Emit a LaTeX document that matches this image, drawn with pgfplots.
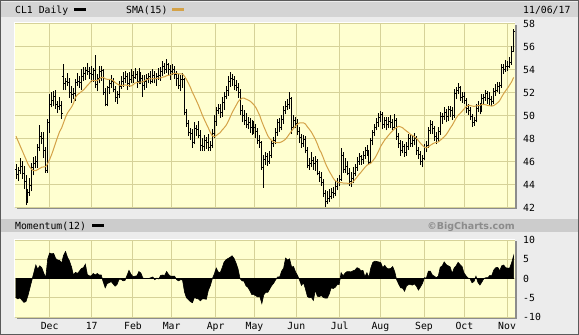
\documentclass[border=0pt]{standalone}
\usepackage{fontspec}
\setmainfont{DejaVu Sans Mono}
\newfontfamily\bcfont{DejaVu Sans}
\usepackage{pgfplots}
\usepackage{pgfplotstable}
\pgfplotsset{compat=1.18}
\definecolor{bgc}{RGB}{236,236,236}
\definecolor{bandc}{RGB}{212,212,212}
\definecolor{bandtwo}{RGB}{204,204,204}
\definecolor{borderc}{RGB}{90,90,90}
\definecolor{plotc}{RGB}{255,255,208}
\definecolor{gridc}{RGB}{214,210,152}
\definecolor{smac}{RGB}{212,162,72}
\definecolor{shadowc}{RGB}{140,140,140}
\definecolor{bcgray}{RGB}{140,140,140}
\pgfplotstableread{
i o h l c s m
0 45.3 45.8 44.5 44.9 48.2 -5.0
1 44.9 45.5 44.3 45.2 47.8 -5.3
2 45.2 46.3 44.9 45.6 47.4 -5.0
3 45.6 46.0 44.5 45.0 47.0 -5.6
4 45.0 45.6 43.6 44.3 46.6 -6.2
5 44.3 44.8 42.2 43.0 46.2 -6.0
6 43.0 43.6 42.4 43.3 45.8 -4.5
7 43.3 44.6 43.0 43.9 45.5 -2.5
8 43.9 45.9 43.4 45.5 45.3 -0.5
9 45.5 46.4 44.8 45.8 45.2 1.5
10 45.8 46.5 45.4 46.0 45.2 3.5
11 46.0 47.5 45.4 47.2 45.3 2.4
12 47.2 49.2 46.9 48.2 45.4 3.3
13 48.2 48.6 47.5 48.0 45.5 2.8
14 48.0 48.6 46.3 47.0 45.53 1.4
15 47.0 47.3 45.0 45.2 45.55 0.2
16 45.2 49.7 45.0 49.4 45.83 5.1
17 49.4 51.9 48.5 51.0 46.19 6.6
18 51.0 52.0 50.7 51.3 46.61 6.4
19 51.3 52.1 50.8 51.7 47.10 6.5
20 51.7 52.2 50.6 51.0 47.63 5.2
21 51.0 51.3 50.2 50.8 48.13 4.8
22 50.8 51.6 50.5 50.9 48.60 4.7
23 50.9 51.3 49.7 50.2 48.91 4.0
24 53.4 54.5 52.2 52.8 49.38 6.0
25 52.8 53.3 52.2 53.0 49.85 7.0
26 53.0 53.7 52.6 52.9 50.23 5.5
27 52.9 53.3 51.5 52.0 50.48 4.5
28 52.0 52.6 51.1 51.8 50.73 3.0
29 51.8 52.4 51.4 51.9 51.06 0.9
30 51.9 53.2 51.3 52.9 51.57 1.6
31 52.9 53.7 52.6 53.0 51.81 1.3
32 53.0 53.4 52.4 52.9 51.94 1.9
33 52.9 54.0 52.2 53.4 52.08 2.6
34 53.4 54.2 53.0 53.7 52.21 2.8
35 53.7 54.2 53.1 53.9 52.41 3.7
36 53.9 54.6 53.5 53.8 52.61 1.0
37 53.8 54.2 53.2 53.7 52.79 0.7
38 53.7 54.3 52.9 53.6 53.02 0.7
39 53.6 54.1 52.9 53.3 53.05 1.3
40 53.9 55.3 52.4 52.7 53.03 0.9
41 52.7 53.6 52.1 53.2 53.05 1.3
42 53.2 54.3 52.8 53.8 53.17 0.9
43 53.8 54.3 53.0 53.9 53.31 0.9
44 53.9 54.0 51.8 52.0 53.32 -0.9
45 52.0 52.4 50.8 51.0 53.19 -2.4
46 51.0 52.6 50.8 52.4 53.15 -1.3
47 52.4 53.2 51.9 52.8 53.15 -1.1
48 52.8 53.5 52.4 53.0 53.12 -0.8
49 53.0 53.3 52.0 52.3 53.03 -1.4
50 52.3 52.6 51.2 51.6 52.87 -2.0
51 51.6 52.1 51.0 51.8 52.74 -1.5
52 51.8 53.0 51.5 52.5 52.66 -0.2
53 52.5 53.4 52.3 53.0 52.62 -0.2
54 53.0 53.8 52.5 53.2 52.61 -0.6
55 53.2 53.9 52.8 53.4 52.66 -0.5
56 53.4 53.7 52.2 52.8 52.63 0.8
57 52.8 53.8 52.5 53.1 52.59 2.1
58 53.1 54.0 52.8 53.5 52.56 1.1
59 53.5 53.9 52.8 53.3 52.65 0.5
60 53.3 54.1 53.2 53.6 52.82 0.6
61 53.6 53.9 52.4 53.0 52.86 0.7
62 53.0 54.1 52.7 53.4 52.90 1.8
63 53.4 53.8 52.7 53.2 52.91 1.4
64 53.2 53.5 51.6 52.6 52.93 0.1
65 52.6 53.5 52.2 53.0 53.03 0.0
66 53.0 53.6 52.4 53.2 53.12 0.0
67 53.2 53.7 52.8 53.4 53.18 0.0
68 53.4 53.9 52.7 53.0 53.18 0.2
69 53.0 54.0 52.8 53.5 53.20 0.4
70 53.5 53.9 52.8 53.2 53.19 -0.3
71 53.2 53.7 52.6 53.4 53.23 0.1
72 53.4 54.1 53.1 53.5 53.25 -0.1
73 53.5 54.2 53.0 53.8 53.27 0.8
74 53.8 54.7 53.4 54.3 53.34 0.9
75 54.3 54.6 53.6 54.0 53.37 0.8
76 54.0 54.9 53.7 54.4 53.46 1.8
77 54.4 54.6 53.5 54.0 53.50 1.0
78 54.0 54.4 53.1 53.8 53.54 0.6
79 53.8 54.5 53.5 54.0 53.63 0.6
80 54.0 54.3 53.2 53.6 53.67 0.6
81 53.6 53.9 52.6 53.2 53.67 -0.3
82 53.2 53.6 52.3 52.6 53.62 -0.6
83 52.6 53.5 52.1 53.1 53.63 -0.3
84 53.1 53.7 52.4 53.1 53.60 -0.4
85 53.1 53.3 50.0 50.3 53.41 -3.5
86 50.3 50.6 49.0 49.3 53.13 -5.0
87 49.3 49.6 48.2 48.5 52.80 -5.5
88 48.5 48.9 47.9 48.4 52.44 -6.0
89 48.4 48.8 47.2 47.7 52.00 -6.3
90 47.7 49.4 47.5 48.9 51.66 -4.9
91 48.9 49.2 48.2 48.8 51.29 -5.2
92 48.8 49.5 48.0 48.3 50.91 -5.3
93 48.3 48.7 46.9 47.4 50.48 -5.8
94 47.4 48.0 46.9 47.3 50.03 -5.3
95 47.3 48.3 46.9 47.8 49.65 -5.3
96 47.8 48.1 47.1 47.7 49.28 -5.4
97 47.7 48.4 46.9 47.2 48.92 -3.1
98 47.2 47.8 46.9 47.4 48.54 -1.9
99 47.4 48.8 47.2 48.4 48.23 -0.1
100 48.4 50.0 48.0 49.5 48.17 1.1
101 49.5 50.7 49.1 50.4 48.25 2.7
102 50.4 51.0 50.1 50.6 48.39 1.7
103 50.6 51.0 49.8 50.3 48.51 1.5
104 50.3 51.6 49.9 51.1 48.74 2.8
105 51.1 52.0 50.5 51.7 48.93 4.3
106 51.7 52.6 51.4 52.2 49.15 4.9
107 52.2 53.4 51.7 53.0 49.47 5.2
108 53.0 53.8 52.5 53.2 49.85 5.5
109 53.2 53.6 52.6 53.1 50.24 5.9
110 53.1 53.4 52.2 52.6 50.56 5.2
111 52.6 53.1 52.1 52.4 50.87 4.0
112 52.4 52.8 51.5 52.0 51.19 2.5
113 52.0 52.3 50.0 50.4 51.39 0.0
114 50.4 50.9 49.4 50.0 51.50 -0.6
115 50.0 50.5 49.2 49.6 51.51 -0.7
116 49.6 50.2 48.9 49.2 51.43 -1.9
117 49.2 49.9 48.8 49.4 51.35 -2.3
118 49.4 49.8 48.5 49.0 51.26 -3.2
119 49.0 49.6 48.3 48.8 51.11 -4.2
120 48.8 49.5 48.4 49.0 50.93 -4.2
121 49.0 49.3 48.0 48.6 50.69 -4.5
122 48.6 48.9 47.5 47.8 50.34 -4.8
123 47.8 48.3 47.2 47.7 49.97 -4.7
124 47.7 47.8 45.3 45.5 49.47 -6.5
125 45.5 46.6 43.7 46.2 49.04 -4.2
126 46.2 46.8 45.7 46.4 48.64 -3.6
127 46.4 46.7 45.6 46.0 48.24 -3.6
128 46.0 46.9 45.8 46.5 47.98 -2.7
129 46.5 47.9 46.3 47.6 47.82 -1.8
130 47.6 48.1 47.3 47.8 47.70 -1.2
131 47.8 48.9 47.5 48.5 47.65 -0.3
132 48.5 49.7 48.2 49.4 47.65 0.4
133 49.4 49.8 48.6 49.0 47.65 0.4
134 49.0 50.0 48.7 49.7 47.71 1.9
135 49.7 50.8 49.3 50.4 47.81 2.7
136 50.4 51.3 50.1 50.8 47.95 5.3
137 50.8 51.4 50.5 51.0 48.17 4.8
138 51.0 52.0 50.6 51.5 48.42 5.1
139 51.5 51.6 48.4 49.0 48.65 3.0
140 49.0 50.0 48.8 49.6 48.88 3.1
141 49.6 49.9 48.9 49.3 49.07 1.7
142 49.3 49.7 48.3 48.6 49.25 0.8
143 48.6 49.0 47.6 48.1 49.35 -0.4
144 48.1 48.4 47.2 47.6 49.35 -1.8
145 47.6 48.3 47.3 47.9 49.36 -1.1
146 47.9 48.2 46.7 47.0 49.26 -2.7
147 47.0 47.3 45.4 45.7 49.01 -4.7
148 45.7 46.3 45.3 45.8 48.80 -5.0
149 45.8 46.8 45.5 46.1 48.56 -4.9
150 46.1 46.4 45.3 45.8 48.25 -5.7
151 45.8 46.5 45.2 46.0 47.93 -3.0
152 46.0 46.2 44.8 45.0 47.53 -4.6
153 45.0 45.2 44.2 44.6 47.07 -4.7
154 44.6 45.1 43.9 44.2 46.75 -4.4
155 44.2 44.5 42.9 43.2 46.33 -4.9
156 43.2 43.5 42.0 42.5 45.87 -5.1
157 42.5 43.4 42.3 42.8 45.49 -5.1
158 42.8 43.6 42.5 43.0 45.15 -4.0
159 43.0 43.7 42.7 43.3 44.86 -2.4
160 43.3 43.8 42.8 43.2 44.55 -2.6
161 43.2 44.3 43.0 43.8 44.33 -2.3
162 43.8 44.6 43.5 44.2 44.23 -1.6
163 44.2 44.8 43.9 44.4 44.14 -1.6
164 44.4 47.2 44.3 46.5 44.17 1.5
165 46.5 46.8 45.0 45.3 44.13 0.7
166 45.3 46.3 45.0 45.6 44.11 1.4
167 45.6 46.0 44.8 45.0 44.11 1.8
168 45.0 45.4 43.9 44.3 44.09 1.8
169 44.3 45.1 43.8 44.5 44.11 1.7
170 44.5 45.5 44.1 45.0 44.23 2.0
171 45.0 45.8 44.7 45.5 44.43 2.2
172 45.5 46.4 45.2 46.0 44.64 2.8
173 46.0 46.7 45.7 46.4 44.87 2.6
174 46.4 46.6 45.7 46.2 45.06 2.0
175 46.2 46.9 45.8 46.5 45.28 2.1
176 46.5 47.3 46.2 47.0 45.49 0.5
177 47.0 47.4 46.5 46.8 45.67 1.5
178 46.8 47.0 45.7 45.9 45.77 0.3
179 45.9 48.0 45.8 47.8 45.85 2.8
180 47.8 48.7 47.4 48.5 46.07 4.2
181 48.5 49.3 48.2 49.0 46.29 4.5
182 49.0 49.8 48.7 49.4 46.59 4.4
183 49.4 50.2 49.0 49.8 46.95 4.3
184 49.8 50.4 49.4 50.1 47.33 4.1
185 50.1 50.3 48.8 49.2 47.61 2.8
186 49.2 49.9 48.9 49.6 47.88 3.4
187 49.6 49.9 48.7 49.2 48.09 2.7
188 49.2 49.9 48.9 49.5 48.30 2.5
189 49.5 50.0 48.9 49.4 48.51 2.6
190 49.4 49.7 48.7 49.0 48.68 3.1
191 49.0 50.1 48.8 49.6 48.85 1.8
192 49.6 49.8 47.9 48.2 48.95 -0.3
193 48.2 48.5 47.2 47.6 49.06 -1.4
194 47.6 47.9 46.5 47.0 49.01 -2.4
195 47.0 47.8 46.7 47.3 48.93 -2.5
196 47.3 47.5 46.4 46.8 48.78 -3.3
197 46.8 47.7 46.5 47.3 48.64 -1.9
198 47.3 48.4 47.0 48.0 48.52 -1.6
199 48.0 48.3 47.3 47.6 48.35 -1.6
200 47.6 48.3 47.3 47.8 48.26 -1.7
201 47.8 48.5 47.4 48.0 48.15 -1.4
202 48.0 48.2 46.6 47.0 48.01 -2.0
203 47.0 47.3 46.2 46.6 47.81 -3.0
204 46.6 46.9 45.7 46.0 47.59 -2.2
205 46.0 46.6 45.5 46.3 47.41 -1.3
206 46.3 47.5 46.1 47.2 47.25 0.2
207 47.2 47.8 46.8 47.4 47.19 0.1
208 47.4 49.0 47.2 48.7 47.27 1.9
209 48.7 49.6 48.4 49.2 47.41 1.9
210 49.2 49.5 48.4 48.9 47.52 0.9
211 48.9 49.1 47.8 48.2 47.61 0.6
212 48.2 48.6 47.5 48.0 47.66 0.2
213 48.0 49.0 47.7 48.6 47.70 0.6
214 48.6 50.3 48.3 49.9 47.85 2.9
215 49.9 50.2 49.3 49.9 47.99 3.3
216 49.9 50.7 49.6 50.3 48.15 4.3
217 50.3 50.6 49.4 49.9 48.34 3.6
218 49.9 50.8 49.5 50.5 48.60 3.3
219 50.5 50.8 49.9 50.4 48.89 3.0
220 50.4 50.7 49.6 50.0 49.14 1.3
221 50.0 52.3 49.8 51.9 49.45 2.7
222 51.9 52.5 51.4 52.2 49.77 3.3
223 52.2 52.8 51.9 52.4 50.02 4.2
224 52.4 52.6 51.3 51.6 50.18 3.6
225 51.6 52.0 51.1 51.7 50.37 3.1
226 51.7 52.0 51.0 51.3 50.57 1.4
227 51.3 51.5 50.2 50.6 50.75 0.7
228 50.6 51.0 50.0 50.4 50.87 0.1
229 50.4 50.7 49.6 49.9 50.87 0.0
230 49.9 50.1 49.0 49.4 50.83 -1.1
231 49.4 49.9 49.1 49.6 50.79 -0.8
232 49.6 51.0 49.4 50.6 50.83 0.6
233 50.6 51.3 50.3 50.9 50.86 -1.0
234 50.9 51.1 50.1 50.5 50.87 -1.7
235 50.5 51.9 50.3 51.5 50.97 -0.9
236 51.5 51.9 51.0 51.6 50.95 0.0
237 51.6 52.2 51.3 51.9 50.93 0.2
238 51.9 52.1 51.0 51.5 50.87 0.2
239 51.5 52.0 50.9 51.4 50.85 0.8
240 51.4 51.7 50.8 51.2 50.82 0.8
241 51.2 52.4 51.0 52.1 50.87 2.2
242 52.1 52.7 51.7 52.2 50.98 2.8
243 52.2 52.9 52.0 52.5 51.12 2.9
244 52.5 52.9 51.9 52.6 51.30 2.0
245 52.6 54.5 52.4 54.2 51.62 3.3
246 54.2 54.5 53.6 54.0 51.91 3.5
247 54.0 54.8 53.8 54.3 52.16 2.8
248 54.3 54.7 53.9 54.3 52.39 2.7
249 54.3 55.1 54.1 54.6 52.66 2.7
250 54.6 56.0 54.4 55.6 52.93 4.1
251 55.6 57.5 55.5 57.3 53.31 5.9
}\pricedata
\pgfplotsset{
  bcaxis/.style={
    scale only axis, width=500pt,
    xmin=-0.5, xmax=251.7,
    axis line style={draw=none},
    tick style={draw=none},
    axis background/.style={fill=plotc},
    grid=major,
    major grid style={draw=gridc, line width=1pt},
    xtick={17.0,38.2,59.0,78.5,100.7,120.3,141.4,163.3,183.8,205.8,226.2,247.7},
    yticklabel pos=right,
    yticklabel style={anchor=west, inner sep=0pt, xshift=8pt},
    tick label style={font=\fontsize{9.8}{11}\selectfont},
  },
  ohlc/.style={draw=none, mark=none, forget plot,
    error bars/error mark=none,
    error bars/error bar style={draw=black, line width=0.8pt}},
}
\begin{document}
\fontsize{9.8}{11}\selectfont
\begin{tikzpicture}
\useasboundingbox (0pt,0pt) rectangle (579pt,335pt);
\fill[bgc] (0pt,0pt) rectangle (579pt,335pt);
\fill[bandc] (1pt,318.3pt) rectangle (578pt,333pt);
\fill[bandtwo] (1pt,103.3pt) rectangle (578pt,115.7pt);
% plot shadows and light edges
\fill[shadowc] (515pt,125.5pt) rectangle (517pt,310pt);
\fill[shadowc] (17pt,125.5pt) rectangle (517pt,127.5pt);
\fill[shadowc] (515pt,16pt) rectangle (517pt,94pt);
\fill[shadowc] (17pt,16pt) rectangle (517pt,18pt);
\fill[white] (14pt,127.5pt) rectangle (515pt,312.5pt);
\fill[white] (14pt,18pt) rectangle (515pt,96pt);

\begin{axis}[bcaxis, at={(15pt,127.5pt)}, anchor=south west, height=184pt,
  ymin=42, ymax=58, ytick={42,44,...,58},
  yticklabels={42,44,46,48,50,52,54,56,58},
  xticklabels={}]
  % high-low bars
  \addplot[ohlc, error bars/y dir=plus, error bars/y explicit]
    table[x=i, y=l, y error expr=\thisrow{h}-\thisrow{l}] {\pricedata};
  % open ticks
  \addplot[ohlc, error bars/x dir=minus, error bars/x fixed=0.55]
    table[x=i, y=o] {\pricedata};
  % close ticks
  \addplot[ohlc, error bars/x dir=plus, error bars/x fixed=0.55]
    table[x=i, y=c] {\pricedata};
  % SMA 15
  \addplot[smac, line width=1pt, mark=none] table[x=i, y=s] {\pricedata};
\end{axis}

\begin{axis}[bcaxis, at={(15pt,18pt)}, anchor=south west, height=77pt,
  ymin=-10, ymax=10, ytick={-10,-5,0,5,10},
  yticklabels={-10,-5,0,5,10},
  xticklabels={Dec,17,Feb,Mar,Apr,May,Jun,Jul,Aug,Sep,Oct,Nov},
  xticklabel style={anchor=base, inner sep=0pt, yshift=-12pt}]
  \addplot[fill=black, draw=black, line width=0.6pt, mark=none]
    table[x=i, y=m] {\pricedata} \closedcycle;
\end{axis}

% header texts
\node[anchor=base west, inner sep=0pt] at (15pt,321.7pt) {CL1 Daily};
\fill[black] (74pt,324pt) rectangle (86pt,327pt);
\node[anchor=base west, inner sep=0pt] at (126pt,321.7pt) {SMA(15)};
\fill[smac] (172pt,324pt) rectangle (184pt,327pt);
\node[anchor=base west, inner sep=0pt] at (523pt,321.7pt) {11/06/17};
\node[anchor=base west, inner sep=0pt] at (15pt,105.7pt) {Momentum(12)};
\fill[black] (92pt,108.3pt) rectangle (104pt,111pt);
\node[anchor=base east, inner sep=0pt, text=bcgray,
  font=\bcfont\bfseries\fontsize{9.5}{11}\selectfont] at (515pt,105.7pt) {©BigCharts.com};
\draw[borderc, line width=1pt] (0.5pt,0.5pt) rectangle (578.5pt,334.5pt);
\end{tikzpicture}
\end{document}
